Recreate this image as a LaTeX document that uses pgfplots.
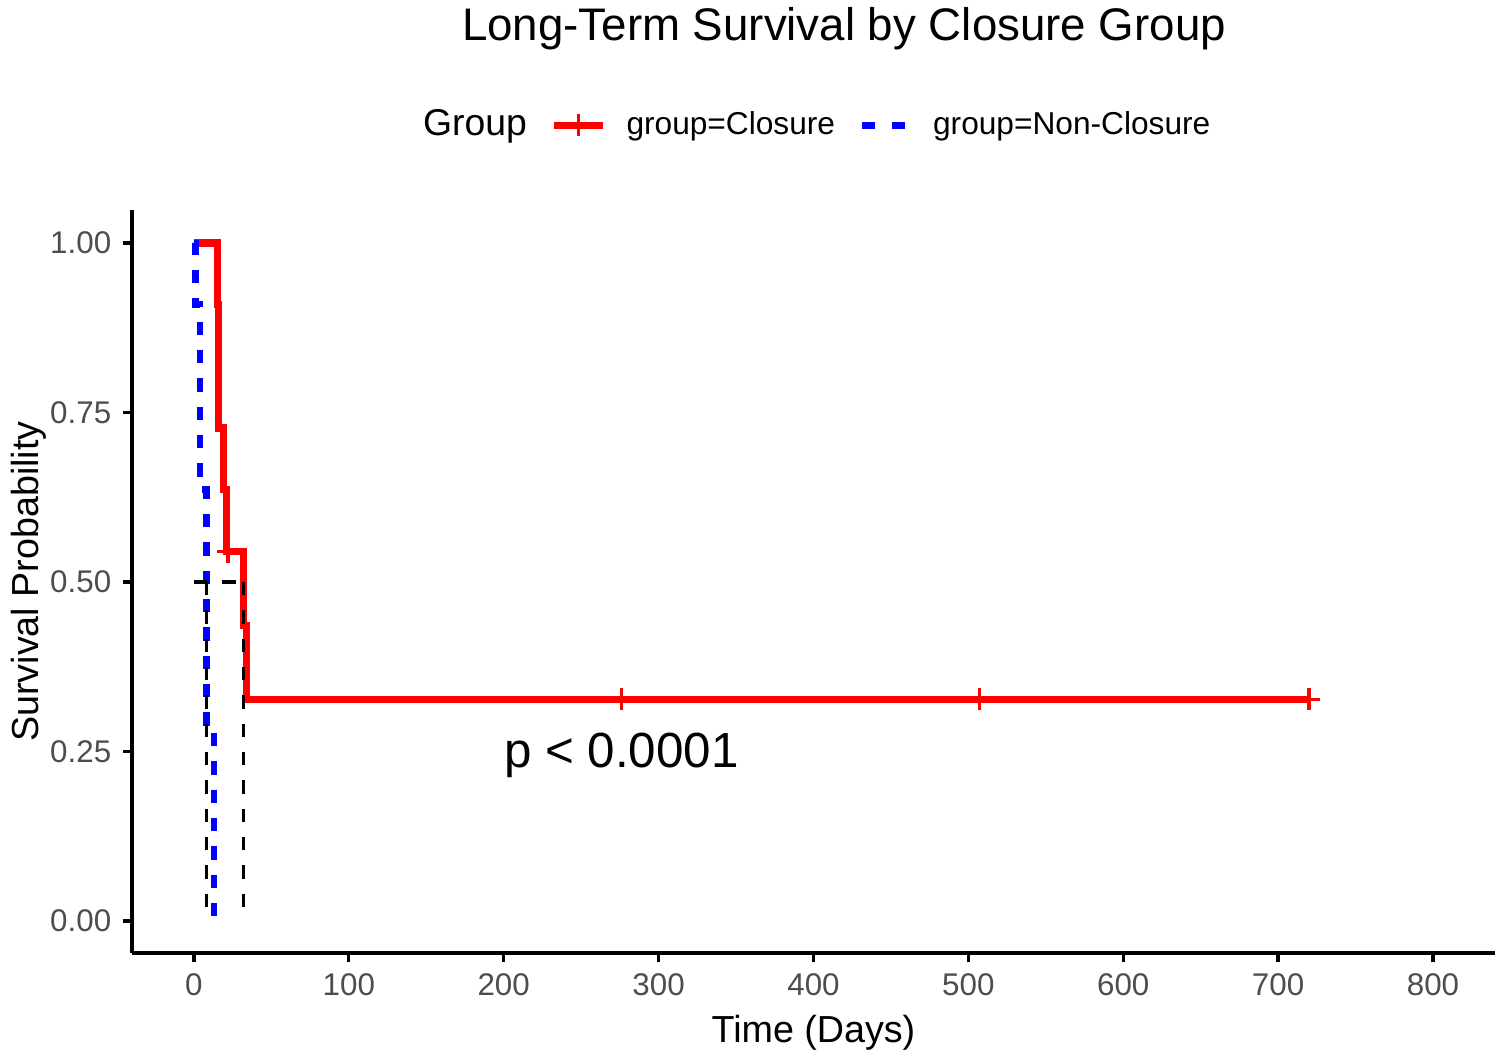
\documentclass[border=0pt]{standalone}
\usepackage{fontspec}
\setmainfont{Liberation Sans}
\usepackage{pgfplots}
\pgfplotsset{compat=1.18}
\definecolor{tickgray}{HTML}{4D4D4D}
\begin{document}
\begin{tikzpicture}
\path[use as bounding box] (-39.6pt,-30.9pt) rectangle (410.4pt,285.9pt);
\begin{axis}[
  scale only axis, width=408.9pt, height=222.9pt,
  xmin=-40, xmax=840, ymin=-0.0472, ymax=1.0487,
  axis x line*=bottom, axis y line*=left,
  axis line style={line width=1pt, black},
  xtick={0,100,...,800}, ytick={0,0.25,0.5,0.75,1},
  yticklabels={0.00,0.25,0.50,0.75,1.00},
  tick align=outside, major tick length=2.7pt,
  tick style={black, line width=1pt},
  ticklabel style={font=\fontsize{9.4}{11}\selectfont, text=tickgray},
  /pgf/number format/assume math mode=true,
  xlabel={Time (Days)}, ylabel={Survival Probability},
  label style={font=\fontsize{11.3}{13}\selectfont},
  x label style={at={(axis description cs:0.5,-0.108)}, anchor=center},
  y label style={at={(axis description cs:-0.0755,0.5)}, anchor=center, rotate=0},
  legend style={at={(axis description cs:0.4975,1.114)}, anchor=center,
    draw=none, fill=none, legend columns=-1,
    font=\fontsize{9.5}{11}\selectfont,
    /tikz/every odd column/.append style={column sep=4pt},
    /tikz/every even column/.append style={column sep=5pt}},
]
\addlegendimage{empty legend}
\addlegendentry{\fontsize{11.2}{13}\selectfont Group\hspace{-2pt}}
\addlegendimage{legend image code/.code={\draw[red, line width=2.2pt] (0pt,0pt)--(14.7pt,0pt); \draw[red, line width=1pt] (7.35pt,-3.3pt)--(7.35pt,3.3pt);}}
\addlegendentry{group=Closure}
\addlegendimage{legend image code/.code={\draw[blue, line width=2pt, dash pattern=on 4pt off 5pt] (0pt,0pt)--(13.2pt,0pt); \path[draw=none, fill=none] (0pt,0pt)--(15.4pt,0pt);}}
\addlegendentry{group=Non-Closure}

\addplot[red, line width=2.2pt, const plot, forget plot] coordinates {(0,1) (15,0.909) (16,0.727) (19,0.636) (21,0.545) (32,0.436) (34,0.327) (720,0.327)};
\addplot[red, only marks, mark=+, mark size=3.3pt, line width=1pt, forget plot] coordinates {(22,0.545) (276,0.327) (507,0.327) (720,0.327)};
\addplot[blue, line width=2pt, dash pattern=on 4pt off 4.5pt, const plot, forget plot] coordinates {(0,1) (1,0.909) (4,0.636) (8,0.273) (13,0)};
\addplot[black, line width=1.1pt, dash pattern=on 4pt off 4.5pt, forget plot] coordinates {(0,0.5) (32,0.5)};
\addplot[black, line width=1.1pt, dash pattern=on 4pt off 4.5pt, forget plot] coordinates {(8,0.5) (8,0)};
\addplot[black, line width=1.1pt, dash pattern=on 4pt off 4.5pt, forget plot] coordinates {(32,0.5) (32,0)};
\node[font=\fontsize{14.8}{17}\selectfont] at (axis cs:276,0.245) {p < 0.0001};
\end{axis}
\node[font=\fontsize{13.7}{16}\selectfont] at (213.6pt,277.2pt) {Long-Term Survival by Closure Group};
\end{tikzpicture}
\end{document}
